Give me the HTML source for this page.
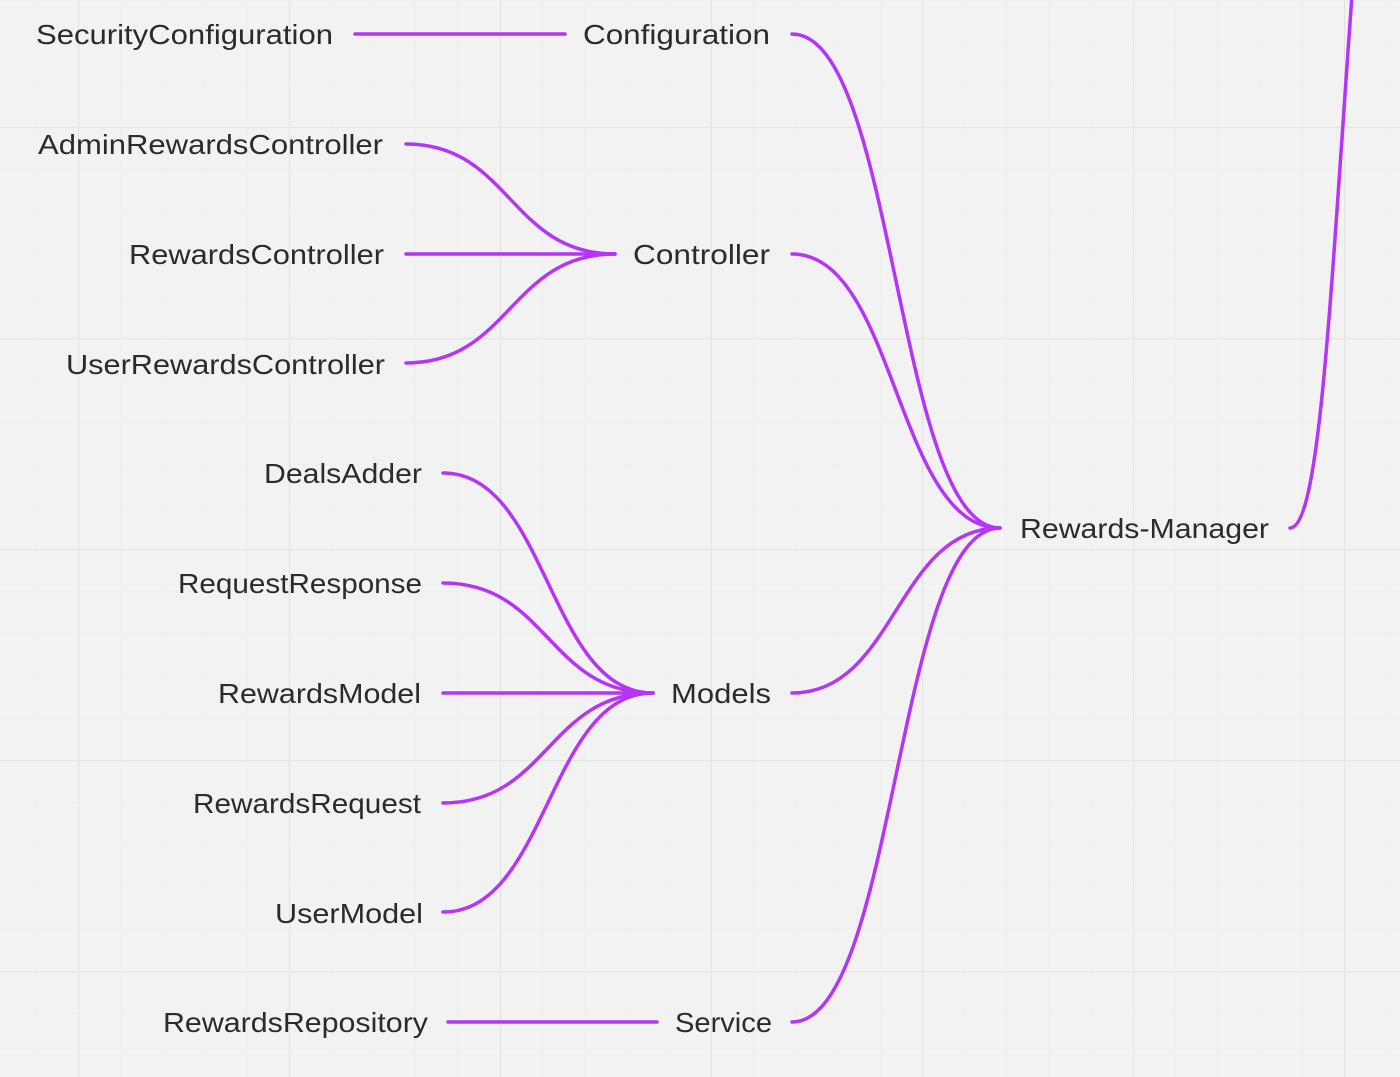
<!DOCTYPE html>
<html><head><meta charset="utf-8"><style>
html,body{margin:0;padding:0;background:#f2f2f2;}
svg{display:block}
text{font-family:"Liberation Sans",sans-serif;font-size:28px;fill:#2b2b2b;}
</style></head><body>
<svg width="1400" height="1077" viewBox="0 0 1400 1077" xmlns="http://www.w3.org/2000/svg">
<defs>
<pattern id="minor" width="42.2" height="42.2" patternUnits="userSpaceOnUse" x="78" y="127">
<path d="M0 0V42.2M0 0H42.2" stroke="#ececec" stroke-width="1" fill="none"/>
</pattern>
<pattern id="major" width="211" height="211" patternUnits="userSpaceOnUse" x="78" y="127">
<path d="M0.5 0V211M0 0.5H211" stroke="#e3e3e3" stroke-width="1.2" fill="none"/>
</pattern>
</defs>
<rect width="1400" height="1077" fill="#f2f2f2"/>
<rect width="1400" height="1077" fill="url(#minor)"/>
<rect width="1400" height="1077" fill="url(#major)"/>
<g stroke="#b535f6" stroke-width="3.5" fill="none" stroke-linecap="round">
<path d="M355 34H565"/>
<path d="M792 34C896 34 896 528 1000 528"/>
<path d="M792 254C896 254 896 528 1000 528"/>
<path d="M792 693C896 693 896 528 1000 528"/>
<path d="M792 1022C896 1022 896 528 1000 528"/>
<path d="M1290 528C1320 528 1330 300 1352 -5"/>
<path d="M406 144C510 144 510 254 615 254"/>
<path d="M406 254H615"/>
<path d="M406 363C510 363 510 254 615 254"/>
<path d="M443 473C548 473 548 693 653 693"/>
<path d="M443 583C548 583 548 693 653 693"/>
<path d="M443 693H653"/>
<path d="M443 803C548 803 548 693 653 693"/>
<path d="M443 912C548 912 548 693 653 693"/>
<path d="M448 1022H657"/>
</g>
<g>
<text x="36" y="44" textLength="297" lengthAdjust="spacingAndGlyphs">SecurityConfiguration</text>
<text x="38" y="154" textLength="345" lengthAdjust="spacingAndGlyphs">AdminRewardsController</text>
<text x="129" y="264" textLength="255" lengthAdjust="spacingAndGlyphs">RewardsController</text>
<text x="66" y="374" textLength="319" lengthAdjust="spacingAndGlyphs">UserRewardsController</text>
<text x="264" y="483" textLength="158" lengthAdjust="spacingAndGlyphs">DealsAdder</text>
<text x="178" y="593" textLength="244" lengthAdjust="spacingAndGlyphs">RequestResponse</text>
<text x="218" y="703" textLength="203" lengthAdjust="spacingAndGlyphs">RewardsModel</text>
<text x="193" y="813" textLength="228" lengthAdjust="spacingAndGlyphs">RewardsRequest</text>
<text x="275" y="923" textLength="148" lengthAdjust="spacingAndGlyphs">UserModel</text>
<text x="163" y="1032" textLength="265" lengthAdjust="spacingAndGlyphs">RewardsRepository</text>
<text x="583" y="44" textLength="187" lengthAdjust="spacingAndGlyphs">Configuration</text>
<text x="633" y="264" textLength="137" lengthAdjust="spacingAndGlyphs">Controller</text>
<text x="671" y="703" textLength="100" lengthAdjust="spacingAndGlyphs">Models</text>
<text x="675" y="1032" textLength="97" lengthAdjust="spacingAndGlyphs">Service</text>
<text x="1020" y="538" textLength="249" lengthAdjust="spacingAndGlyphs">Rewards-Manager</text>
</g>
</svg>
</body></html>
